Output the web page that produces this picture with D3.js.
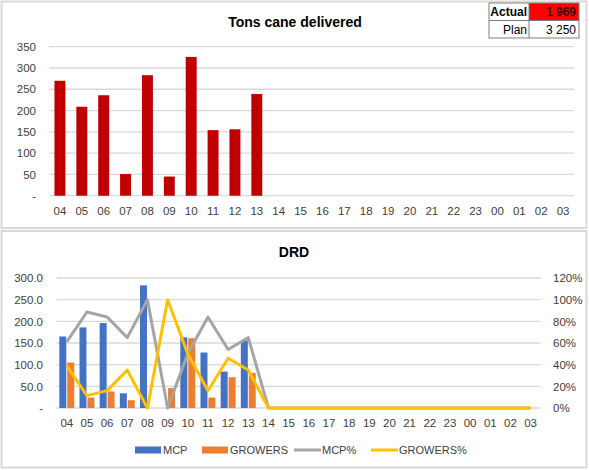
<!DOCTYPE html>
<html>
<head>
<meta charset="utf-8">
<script src="https://cdn.jsdelivr.net/npm/d3@7"></script>
<style>
  body { margin: 0; background: #fff; }
  svg { font-family: "Liberation Sans", Arial, sans-serif; }
</style>
</head>
<body>
<div id="chart"></div>
<script>
var categories = ["04","05","06","07","08","09","10","11","12","13","14","15","16","17","18","19","20","21","22","23","00","01","02","03"];

// Tons cane delivered per hour
var tonsCane = [270, 209, 236, 51, 283, 45, 326, 154, 156, 239, 0, 0, 0, 0, 0, 0, 0, 0, 0, 0, 0, 0, 0, 0];

// DRD split
var mcp = [165, 186, 196, 34, 283, 0, 163, 128, 84, 156, 0, 0, 0, 0, 0, 0, 0, 0, 0, 0, 0, 0, 0, 0];
var growers = [105, 24, 38, 18, 0, 46, 161, 24, 71, 81, 0, 0, 0, 0, 0, 0, 0, 0, 0, 0, 0, 0, 0, 0];
var mcpPct = [0.61, 0.886, 0.84, 0.65, 1.0, 0, 0.50, 0.84, 0.54, 0.65, 0, 0, 0, 0, 0, 0, 0, 0, 0, 0, 0, 0, 0, 0];
var growersPct = [0.39, 0.114, 0.16, 0.35, 0, 1.0, 0.50, 0.16, 0.46, 0.35, 0, 0, 0, 0, 0, 0, 0, 0, 0, 0, 0, 0, 0, 0];

var tableRows = [["Actual", "1 969"], ["Plan", "3 250"]];

var topTicks = [0, 50, 100, 150, 200, 250, 300, 350];
var leftTicks = [0, 50, 100, 150, 200, 250, 300];
var rightTicks = [0, 0.2, 0.4, 0.6, 0.8, 1.0, 1.2];

var W = 589, H = 470;
var gridColor = "#d9d9d9", textColor = "#404040";

var svg = d3.select("#chart").append("svg")
  .attr("width", W)
  .attr("height", H);

// Panel frames
svg.append("rect").attr("x", 1.5).attr("y", 1.5).attr("width", 585).attr("height", 226.5)
  .attr("fill", "#fff").attr("stroke", gridColor).attr("stroke-width", 2);
svg.append("rect").attr("x", 1.5).attr("y", 231).attr("width", 585).attr("height", 236.5)
  .attr("fill", "#fff").attr("stroke", gridColor).attr("stroke-width", 2);

// ---------- Top chart: Tons cane delivered ----------
var x1 = d3.scaleBand().domain(categories).range([49, 574])
  .paddingInner(0.5).paddingOuter(0.25);
var y1 = d3.scaleLinear().domain([0, 350]).range([195.7, 46.7]);

svg.append("g").selectAll("line")
  .data(topTicks)
  .join("line")
    .attr("x1", 49).attr("x2", 574)
    .attr("y1", d => y1(d)).attr("y2", d => y1(d))
    .attr("stroke", gridColor).attr("stroke-width", 1.3);

var yAxis1 = svg.append("g")
  .attr("transform", "translate(40,0)")
  .call(d3.axisLeft(y1).tickValues(topTicks).tickSize(0).tickPadding(4)
    .tickFormat(d => d === 0 ? "-" : d));
yAxis1.select(".domain").remove();
yAxis1.selectAll("text").attr("font-size", 11.5).attr("fill", textColor)
  .attr("font-family", "Liberation Sans, Arial, sans-serif");

var xAxis1 = svg.append("g")
  .attr("transform", "translate(0,204)")
  .call(d3.axisBottom(x1).tickSize(0).tickPadding(3));
xAxis1.select(".domain").remove();
xAxis1.selectAll("text").attr("font-size", 11.5).attr("fill", textColor)
  .attr("font-family", "Liberation Sans, Arial, sans-serif");

svg.append("g").selectAll("rect")
  .data(tonsCane)
  .join("rect")
    .attr("x", (d, i) => x1(categories[i]))
    .attr("y", d => y1(d))
    .attr("width", x1.bandwidth())
    .attr("height", d => y1(0) - y1(d))
    .attr("fill", "#c00000");

svg.append("text")
  .attr("x", 295).attr("y", 27)
  .attr("text-anchor", "middle")
  .attr("font-size", 14).attr("font-weight", "bold")
  .attr("fill", "#000")
  .text("Tons cane delivered");

// Actual / Plan table
var tX = 489, tSplit = 529, tR = 579, tTop = 3, tRowH = 17.5;
var tbl = svg.append("g");
tbl.append("rect").attr("x", tSplit).attr("y", tTop).attr("width", tR - tSplit).attr("height", tRowH)
  .attr("fill", "#ff0000");
tbl.append("rect").attr("x", tX).attr("y", tTop).attr("width", tR - tX).attr("height", tRowH * 2)
  .attr("fill", "none").attr("stroke", "#7f7f7f").attr("stroke-width", 1);
tbl.append("line").attr("x1", tX).attr("x2", tR).attr("y1", tTop + tRowH).attr("y2", tTop + tRowH)
  .attr("stroke", "#7f7f7f");
tbl.append("line").attr("x1", tSplit).attr("x2", tSplit).attr("y1", tTop).attr("y2", tTop + tRowH * 2)
  .attr("stroke", "#7f7f7f");
tableRows.forEach(function (r, i) {
  var yy = tTop + tRowH * i + 13;
  tbl.append("text").attr("x", tSplit - 2).attr("y", yy).attr("text-anchor", "end")
    .attr("font-size", 12).attr("font-weight", i === 0 ? "bold" : "normal").attr("fill", "#000")
    .text(r[0]);
  tbl.append("text").attr("x", tR - 3).attr("y", yy).attr("text-anchor", "end")
    .attr("font-size", 12).attr("font-weight", i === 0 ? "bold" : "normal")
    .attr("fill", i === 0 ? "#400000" : "#000")
    .text(r[1]);
});

// ---------- Bottom chart: DRD ----------
var x2 = d3.scaleBand().domain(categories).range([56.7, 540.7])
  .paddingInner(0.26).paddingOuter(0.13);
var xSub = d3.scaleBand().domain(["MCP", "GROWERS"]).range([0, x2.bandwidth()]).paddingInner(0.12);
var y2 = d3.scaleLinear().domain([0, 300]).range([408, 278]);
var y2r = d3.scaleLinear().domain([0, 1.2]).range([408, 278]);

svg.append("g").selectAll("line")
  .data(leftTicks)
  .join("line")
    .attr("x1", 56.7).attr("x2", 540.7)
    .attr("y1", d => y2(d)).attr("y2", d => y2(d))
    .attr("stroke", gridColor).attr("stroke-width", 1.3);

var yAxis2 = svg.append("g")
  .attr("transform", "translate(47,0)")
  .call(d3.axisLeft(y2).tickValues(leftTicks).tickSize(0).tickPadding(4)
    .tickFormat(d => d === 0 ? "-" : d3.format(".1f")(d)));
yAxis2.select(".domain").remove();
yAxis2.selectAll("text").attr("font-size", 11.5).attr("fill", textColor)
  .attr("font-family", "Liberation Sans, Arial, sans-serif");

var yAxis2r = svg.append("g")
  .attr("transform", "translate(549,0)")
  .call(d3.axisRight(y2r).tickValues(rightTicks).tickSize(0).tickPadding(4)
    .tickFormat(d3.format(".0%")));
yAxis2r.select(".domain").remove();
yAxis2r.selectAll("text").attr("font-size", 11.5).attr("fill", textColor)
  .attr("font-family", "Liberation Sans, Arial, sans-serif");

var xAxis2 = svg.append("g")
  .attr("transform", "translate(0,416)")
  .call(d3.axisBottom(x2).tickSize(0).tickPadding(3));
xAxis2.select(".domain").remove();
xAxis2.selectAll("text").attr("font-size", 11.5).attr("fill", textColor)
  .attr("font-family", "Liberation Sans, Arial, sans-serif");

var barSeries = [
  {key: "MCP", values: mcp, color: "#4472c4"},
  {key: "GROWERS", values: growers, color: "#ed7d31"}
];

svg.append("g").selectAll("g")
  .data(barSeries)
  .join("g")
    .attr("fill", s => s.color)
  .selectAll("rect")
  .data(s => s.values.map((v, i) => ({key: s.key, cat: categories[i], v: v})))
  .join("rect")
    .attr("x", d => x2(d.cat) + xSub(d.key))
    .attr("y", d => y2(d.v))
    .attr("width", xSub.bandwidth())
    .attr("height", d => y2(0) - y2(d.v));

var lineSeries = [
  {key: "MCP%", values: mcpPct, color: "#a5a5a5"},
  {key: "GROWERS%", values: growersPct, color: "#ffc000"}
];

var line = d3.line()
  .x((d, i) => x2(categories[i]) + x2.bandwidth() / 2)
  .y(d => y2r(d));

svg.append("g").selectAll("path")
  .data(lineSeries)
  .join("path")
    .attr("d", s => line(s.values))
    .attr("fill", "none")
    .attr("stroke", s => s.color)
    .attr("stroke-width", 3)
    .attr("stroke-linejoin", "round");

svg.append("text")
  .attr("x", 294).attr("y", 257)
  .attr("text-anchor", "middle")
  .attr("font-size", 14).attr("font-weight", "bold")
  .attr("fill", "#000")
  .text("DRD");

// Legend
var legendItems = [
  {label: "MCP", color: "#4472c4", type: "bar", x: 135},
  {label: "GROWERS", color: "#ed7d31", type: "bar", x: 202},
  {label: "MCP%", color: "#a5a5a5", type: "line", x: 294},
  {label: "GROWERS%", color: "#ffc000", type: "line", x: 371}
];
var legend = svg.append("g").selectAll("g")
  .data(legendItems)
  .join("g")
    .attr("transform", d => `translate(${d.x},450)`);
legend.filter(d => d.type === "bar").append("rect")
  .attr("x", 0).attr("y", -3.5).attr("width", 26).attr("height", 7)
  .attr("fill", d => d.color);
legend.filter(d => d.type === "line").append("line")
  .attr("x1", 0).attr("x2", 27).attr("y1", 0).attr("y2", 0)
  .attr("stroke", d => d.color).attr("stroke-width", 3);
legend.append("text")
  .attr("x", 28).attr("y", 4)
  .attr("font-size", 11).attr("fill", textColor)
  .text(d => d.label);
</script>
</body>
</html>
